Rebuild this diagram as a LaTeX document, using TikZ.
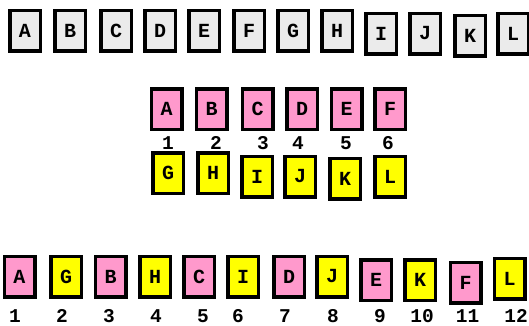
\documentclass[tikz,border=0pt]{standalone}
\usepackage{fontspec}
\newfontfamily\cardfont{Liberation Mono}
\begin{document}
\begin{tikzpicture}[x=1pt,y=-1pt,
  card/.style={rectangle,draw=black,line width=3.5pt,minimum width=30.5pt,minimum height=40.5pt,inner sep=0pt,font=\fontsize{20}{20}\selectfont\cardfont\bfseries},
  gcard/.style={card,fill=cardgray},
  pcard/.style={card,fill=cardpink},
  ycard/.style={card,fill=cardyellow},
  num/.style={anchor=base,inner sep=0pt,font=\fontsize{19.5}{19.5}\selectfont\cardfont\bfseries}]
\definecolor{cardgray}{RGB}{235,235,235}
\definecolor{cardpink}{RGB}{255,153,204}
\definecolor{cardyellow}{RGB}{255,255,0}
\useasboundingbox (0,0) rectangle (529,325);
% top row
\node[gcard] (tA) at (25,30.5) {A};
\node[gcard] (tB) at (70,30.5) {B};
\node[gcard] (tC) at (116,30.5) {C};
\node[gcard] (tD) at (160,30.5) {D};
\node[gcard] (tE) at (204,30.5) {E};
\node[gcard] (tF) at (249,30.5) {F};
\node[gcard] (tG) at (293,30.5) {G};
\node[gcard] (tH) at (337,30.5) {H};
\node[gcard] (tI) at (381,33.5) {I};
\node[gcard] (tJ) at (425,33.5) {J};
\node[gcard] (tK) at (470,35.5) {K};
\node[gcard] (tL) at (513,33.5) {L};
% middle pink
\node[pcard] (mA) at (166.5,109) {A};
\node[pcard] (mB) at (211.5,109) {B};
\node[pcard] (mC) at (257.5,109) {C};
\node[pcard] (mD) at (302,109) {D};
\node[pcard] (mE) at (346.5,109) {E};
\node[pcard] (mF) at (390,109) {F};
% middle numbers
\node[num] (m1) at (168,149) {1};
\node[num] (m2) at (216,149) {2};
\node[num] (m3) at (263,149) {3};
\node[num] (m4) at (298,149) {4};
\node[num] (m5) at (346,149) {5};
\node[num] (m6) at (388,149) {6};
% middle yellow
\node[ycard] (mG) at (168,173) {G};
\node[ycard] (mH) at (213,173) {H};
\node[ycard] (mI) at (257,176.5) {I};
\node[ycard] (mJ) at (300,176.5) {J};
\node[ycard] (mK) at (345,178.5) {K};
\node[ycard] (mL) at (390,176.5) {L};
% bottom row
\node[pcard] (bA) at (19.5,276.5) {A};
\node[ycard] (bG) at (66,276.5) {G};
\node[pcard] (bB) at (110.5,276.5) {B};
\node[ycard] (bH) at (155,276.5) {H};
\node[pcard] (bC) at (199,276.5) {C};
\node[ycard] (bI) at (243,276.5) {I};
\node[pcard] (bD) at (289,276.5) {D};
\node[ycard] (bJ) at (332,276.5) {J};
\node[pcard] (bE) at (376,280) {E};
\node[ycard] (bK) at (420,280) {K};
\node[pcard] (bF) at (465.5,282.5) {F};
\node[ycard] (bL) at (509.5,278.5) {L};
% bottom numbers
\node[num] (b1) at (15,322) {1};
\node[num] (b2) at (62,322) {2};
\node[num] (b3) at (109,322) {3};
\node[num] (b4) at (156,322) {4};
\node[num] (b5) at (203,322) {5};
\node[num] (b6) at (238,322) {6};
\node[num] (b7) at (285,322) {7};
\node[num] (b8) at (333,322) {8};
\node[num] (b9) at (380,322) {9};
\node[num] (b10) at (422,322) {10};
\node[num] (b11) at (467.5,322) {11};
\node[num] (b12) at (516,322) {12};
\end{tikzpicture}
\end{document}
